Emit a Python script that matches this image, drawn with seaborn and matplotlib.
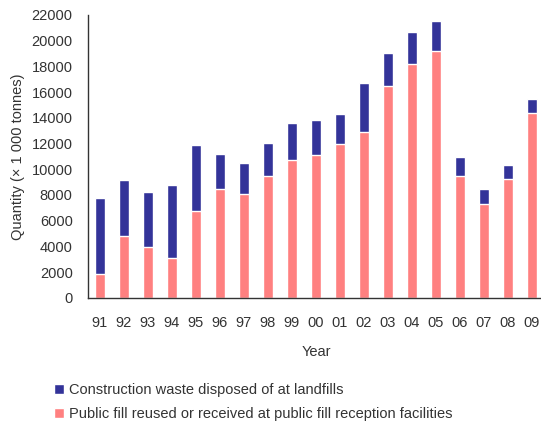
import pandas as pd
import matplotlib.pyplot as plt
import seaborn as sns

# Dados (x 1 000 toneladas)
anos = ['91', '92', '93', '94', '95', '96', '97', '98', '99', '00',
        '01', '02', '03', '04', '05', '06', '07', '08', '09']
aterro = [5930, 4370, 4210, 5700, 5150, 2730, 2420, 2570, 2920, 2750,
          2340, 3750, 2500, 2470, 2400, 1510, 1150, 1090, 1150]
enchimento = [1850, 4810, 3980, 3070, 6710, 8460, 8040, 9440, 10690, 11110,
              11940, 12930, 16510, 18180, 19170, 9440, 7310, 9210, 14350]

cor_aterro = '#333399'
cor_enchimento = '#ff8080'
cor_texto = '#333333'

df = pd.DataFrame({'Ano': anos, 'Aterro': aterro, 'Enchimento': enchimento})
df['Total'] = df['Aterro'] + df['Enchimento']

sns.set_style('white')
plt.rcParams['font.family'] = ['Liberation Sans', 'DejaVu Sans']

fig = plt.figure(figsize=(5.41, 4.22), dpi=100)
ax = fig.add_axes([88 / 541, 1 - 297.7 / 422, 456 / 541, 282.7 / 422])

# barras empilhadas: total por trás, enchimento por cima
sns.barplot(data=df, x='Ano', y='Total', color=cor_aterro, width=0.42,
            saturation=1, ax=ax, label='Construction waste disposed of at landfills')
sns.barplot(data=df, x='Ano', y='Enchimento', color=cor_enchimento, width=0.42,
            saturation=1, ax=ax,
            label='Public fill reused or received at public fill reception facilities')

ax.set_xlim(-0.5, 18.5)
ax.set_ylim(0, 22000)
ax.set_yticks(range(0, 22001, 2000))
ax.set_ylabel('Quantity (\u00d7 1 000 tonnes)', fontsize=10.5, color=cor_texto, labelpad=5)
ax.set_xlabel('Year', fontsize=10.5, color=cor_texto, labelpad=11)

for lado in ['top', 'right']:
    ax.spines[lado].set_visible(False)
for lado in ['left', 'bottom']:
    ax.spines[lado].set_color('#333333')
    ax.spines[lado].set_linewidth(1.0)

ax.tick_params(axis='y', direction='in', length=4, width=1, color='#333333',
               labelsize=10.5, labelcolor=cor_texto, pad=11)
ax.tick_params(axis='x', length=0, labelsize=10.5, labelcolor=cor_texto, pad=13)

if ax.get_legend():
    ax.get_legend().remove()
handles, labels = ax.get_legend_handles_labels()
fig.legend(handles, labels, loc='upper left', bbox_to_anchor=(41 / 541, 1 - 370 / 422),
           frameon=False, fontsize=10.5, handlelength=0.7, handleheight=0.7,
           handletextpad=0.35, labelspacing=0.7, labelcolor=cor_texto)

fig.savefig('out.png', dpi=100)
